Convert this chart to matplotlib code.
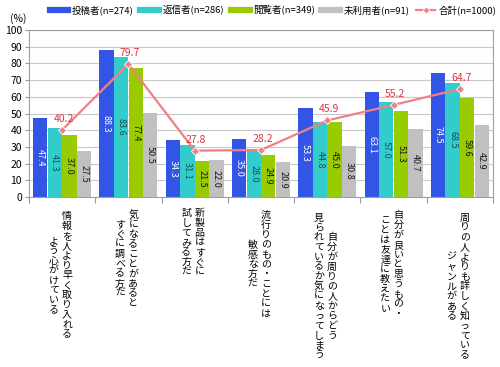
import numpy as np
import matplotlib
matplotlib.use("Agg")
import matplotlib.pyplot as plt
from matplotlib.lines import Line2D

plt.rcParams['font.family'] = ['Noto Sans CJK JP', 'DejaVu Sans']

# data
categories = [
    ["情報を人より早く取り入れる", "よう心がけている"],
    ["気になることがあると", "すぐに調べる方だ"],
    ["新製品はすぐに", "試してみる方だ"],
    ["流行りのもの・ことには", "敏感な方だ"],
    ["自分が周りの人からどう", "見られているか気になってしまう"],
    ["自分が良いと思うもの・", "ことは友達に教えたい"],
    ["周りの人よりも詳しく知っている", "ジャンルがある"],
]
series_names = ["投稿者(n=274)", "返信者(n=286)", "閲覧者(n=349)", "未利用者(n=91)"]
toukou = [47.4, 88.3, 34.3, 35.0, 53.3, 63.1, 74.5]
henshin = [41.3, 83.6, 31.1, 28.0, 44.8, 57.0, 68.5]
etsuran = [37.0, 77.4, 21.5, 24.9, 45.0, 51.3, 59.6]
miriyou = [27.5, 50.5, 22.0, 20.9, 30.8, 40.7, 42.9]
total_name = "合計(n=1000)"
total = [40.2, 79.7, 27.8, 28.2, 45.9, 55.2, 64.7]

colors = ["#3355e6", "#33cccc", "#99cc00", "#c0c0c0"]
text_colors = ["white", "#1b4f4f", "#1a1a1a", "#1a1a1a"]
line_color = "#ee8088"

fig = plt.figure(figsize=(5, 3.67), dpi=100)
ax = fig.add_axes([0.058, 0.463, 0.928, 0.455])

x = np.arange(len(categories))
offsets = [-0.33, -0.11, 0.11, 0.33]
w = 0.215
for vals, off, c, tc in zip([toukou, henshin, etsuran, miriyou], offsets, colors, text_colors):
    bars = ax.bar(x + off, vals, width=w, color=c, zorder=2)
    for b, v in zip(bars, vals):
        ax.text(b.get_x() + b.get_width() / 2, v / 2, f"{v:.1f}", rotation=-90,
                ha='center', va='center', fontsize=6.5, color=tc, zorder=3)

ax.plot(x, total, color=line_color, lw=1.6, marker='D', ms=4,
        mfc=line_color, mec='white', mew=0.6, zorder=4)
for xi, v in zip(x, total):
    ax.annotate(f"{v:.1f}", (xi, v), xytext=(1, 8), textcoords='offset points',
                ha='center', va='center', fontsize=7.5, color="#dd3344", zorder=5)

ax.set_xlim(-0.5, len(categories) - 0.5)
ax.set_ylim(0, 100)
ax.set_yticks(range(0, 101, 10))
ax.yaxis.grid(True, color="#c8c8c8", lw=0.8, zorder=0)
ax.tick_params(axis='y', labelsize=7.5, length=3, color="#999999", pad=2)
ax.set_xticks(np.arange(-0.5, len(categories)), labels=[])
ax.tick_params(axis='x', length=4, color="#999999")
for s in ax.spines.values():
    s.set_color("#a0a0a0")
    s.set_linewidth(0.8)

fig.text(0.036, 0.95, "(%)", fontsize=7.5, ha='center', va='center')

# vertical category labels (columns right to left)
char_pt = 7.9
for xi, lines in zip(x, categories):
    maxlen = max(len(l) for l in lines)
    center = 5 + maxlen * char_pt / 2
    for j, line in enumerate(lines):
        dx = 3.5 - j * 9.5
        ax.annotate("\n".join(line), (xi, 0), xycoords=('data', 'axes fraction'),
                    xytext=(dx, -center), textcoords='offset points',
                    ha='center', va='center', fontsize=7.2, linespacing=0.98,
                    annotation_clip=False)

handles = [Line2D([0], [0], color=c, lw=4.5) for c in colors]
handles.append(Line2D([0], [0], color=line_color, lw=1.6, marker='D', ms=3.5,
                      mfc=line_color, mec='white', mew=0.5))
fig.legend(handles, series_names + [total_name], loc='center right', ncol=5,
           bbox_to_anchor=(1.0, 0.972), fontsize=6.8, frameon=False,
           handlelength=2.0, handletextpad=0.35, columnspacing=0.7,
           borderaxespad=0.2, borderpad=0.2)

fig.savefig("out.png", dpi=100)
